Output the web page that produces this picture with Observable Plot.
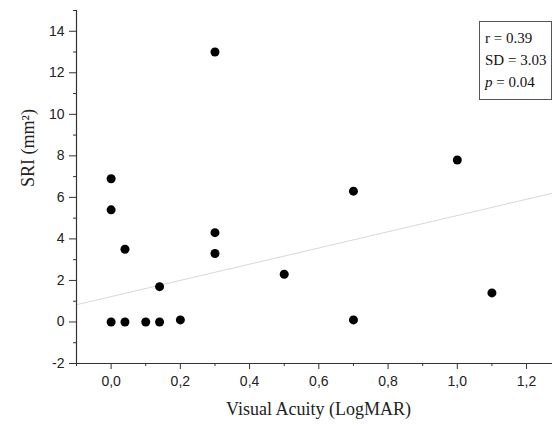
<!DOCTYPE html>
<html>
<head>
<meta charset="utf-8">
<script src="https://cdn.jsdelivr.net/npm/d3@7"></script>
<script src="https://cdn.jsdelivr.net/npm/@observablehq/plot@0.6"></script>
<style>
  html, body { margin: 0; padding: 0; background: #fff; }
  #wrap { position: relative; width: 552px; height: 425px; }
  #stats {
    position: absolute; left: 479px; top: 21px; width: 73px; height: 79px;
    box-sizing: border-box; border: 1px solid #555; background: #fff;
    font-family: "Liberation Serif", serif; font-size: 15px;
    color: #111; padding: 5px 0 0 5px; line-height: 22px; white-space: nowrap;
  }
</style>
</head>
<body>
<div id="wrap"></div>
<script>
// Data
const acuity = [0, 0, 0, 0.04, 0.04, 0.1, 0.14, 0.14, 0.2, 0.3, 0.3, 0.3, 0.5, 0.7, 0.7, 1.0, 1.1];
const sri    = [6.9, 5.4, 0, 3.5, 0, 0, 0, 1.7, 0.1, 13, 4.3, 3.3, 2.3, 6.3, 0.1, 7.8, 1.4];
const fitX = [-0.1, 1.275];
const fitY = [0.83, 6.2];
const xMajor = [0, 0.2, 0.4, 0.6, 0.8, 1.0, 1.2];
const xMinor = [-0.1, 0.1, 0.3, 0.5, 0.7, 0.9, 1.1];
const yMajor = [-2, 0, 2, 4, 6, 8, 10, 12, 14];
const yMinor = [-1, 1, 3, 5, 7, 9, 11, 13, 15];
const statLines = ["r = 0.39", "SD = 3.03", "p = 0.04"];

const points = acuity.map((x, i) => ({x, y: sri[i]}));
const fit = fitX.map((x, i) => ({x, y: fitY[i]}));

const sans = "Liberation Sans, Arial, sans-serif";
const serif = "Liberation Serif, serif";

const chart = Plot.plot({
  width: 552,
  height: 425,
  marginLeft: 76,
  marginRight: 0,
  marginTop: 10,
  marginBottom: 62,
  style: {background: "#fff", color: "#222"},
  x: {domain: [-0.1, 1.275], label: null},
  y: {domain: [-2, 15], label: null},
  marks: [
    Plot.line(fit, {x: "x", y: "y", stroke: "#d8d8d8", strokeWidth: 1}),
    Plot.axisX({ticks: xMajor, tickSize: 6, tickPadding: 7, fontSize: 14, fontFamily: sans,
      tickFormat: d => d.toFixed(1).replace(".", ","), label: null, stroke: "#333", fill: "#222"}),
    Plot.axisX({ticks: xMinor, tickSize: 3, text: null, label: null, stroke: "#333"}),
    Plot.axisY({ticks: yMajor, tickSize: 7, tickPadding: 5, fontSize: 14, fontFamily: sans,
      tickFormat: d => String(d), label: null, stroke: "#333", fill: "#222"}),
    Plot.axisY({ticks: yMinor, tickSize: 3, text: null, label: null, stroke: "#333"}),
    Plot.ruleX([-0.1], {y1: -2, y2: 15, stroke: "#333", strokeWidth: 1.2}),
    Plot.ruleY([-2], {stroke: "#333", strokeWidth: 1.2}),
    Plot.dot(points, {x: "x", y: "y", r: 4.5, fill: "#000", stroke: "none"}),
    Plot.text(["Visual Acuity (LogMAR)"], {text: d => d, frameAnchor: "bottom", dy: 51, dx: 4,
      fontFamily: serif, fontSize: 18, fill: "#222"}),
    Plot.text(["SRI (mm²)"], {text: d => d, frameAnchor: "left", dx: -48, dy: 0, rotate: -90,
      fontFamily: serif, fontSize: 18, fill: "#222"})
  ]
});

const wrap = document.getElementById("wrap");
wrap.appendChild(chart);
const box = document.createElement("div");
box.id = "stats";
box.innerHTML = statLines.map(s => s.startsWith("p")
  ? "<i>p</i>" + s.slice(1) : s).join("<br>");
wrap.appendChild(box);
</script>
</body>
</html>
